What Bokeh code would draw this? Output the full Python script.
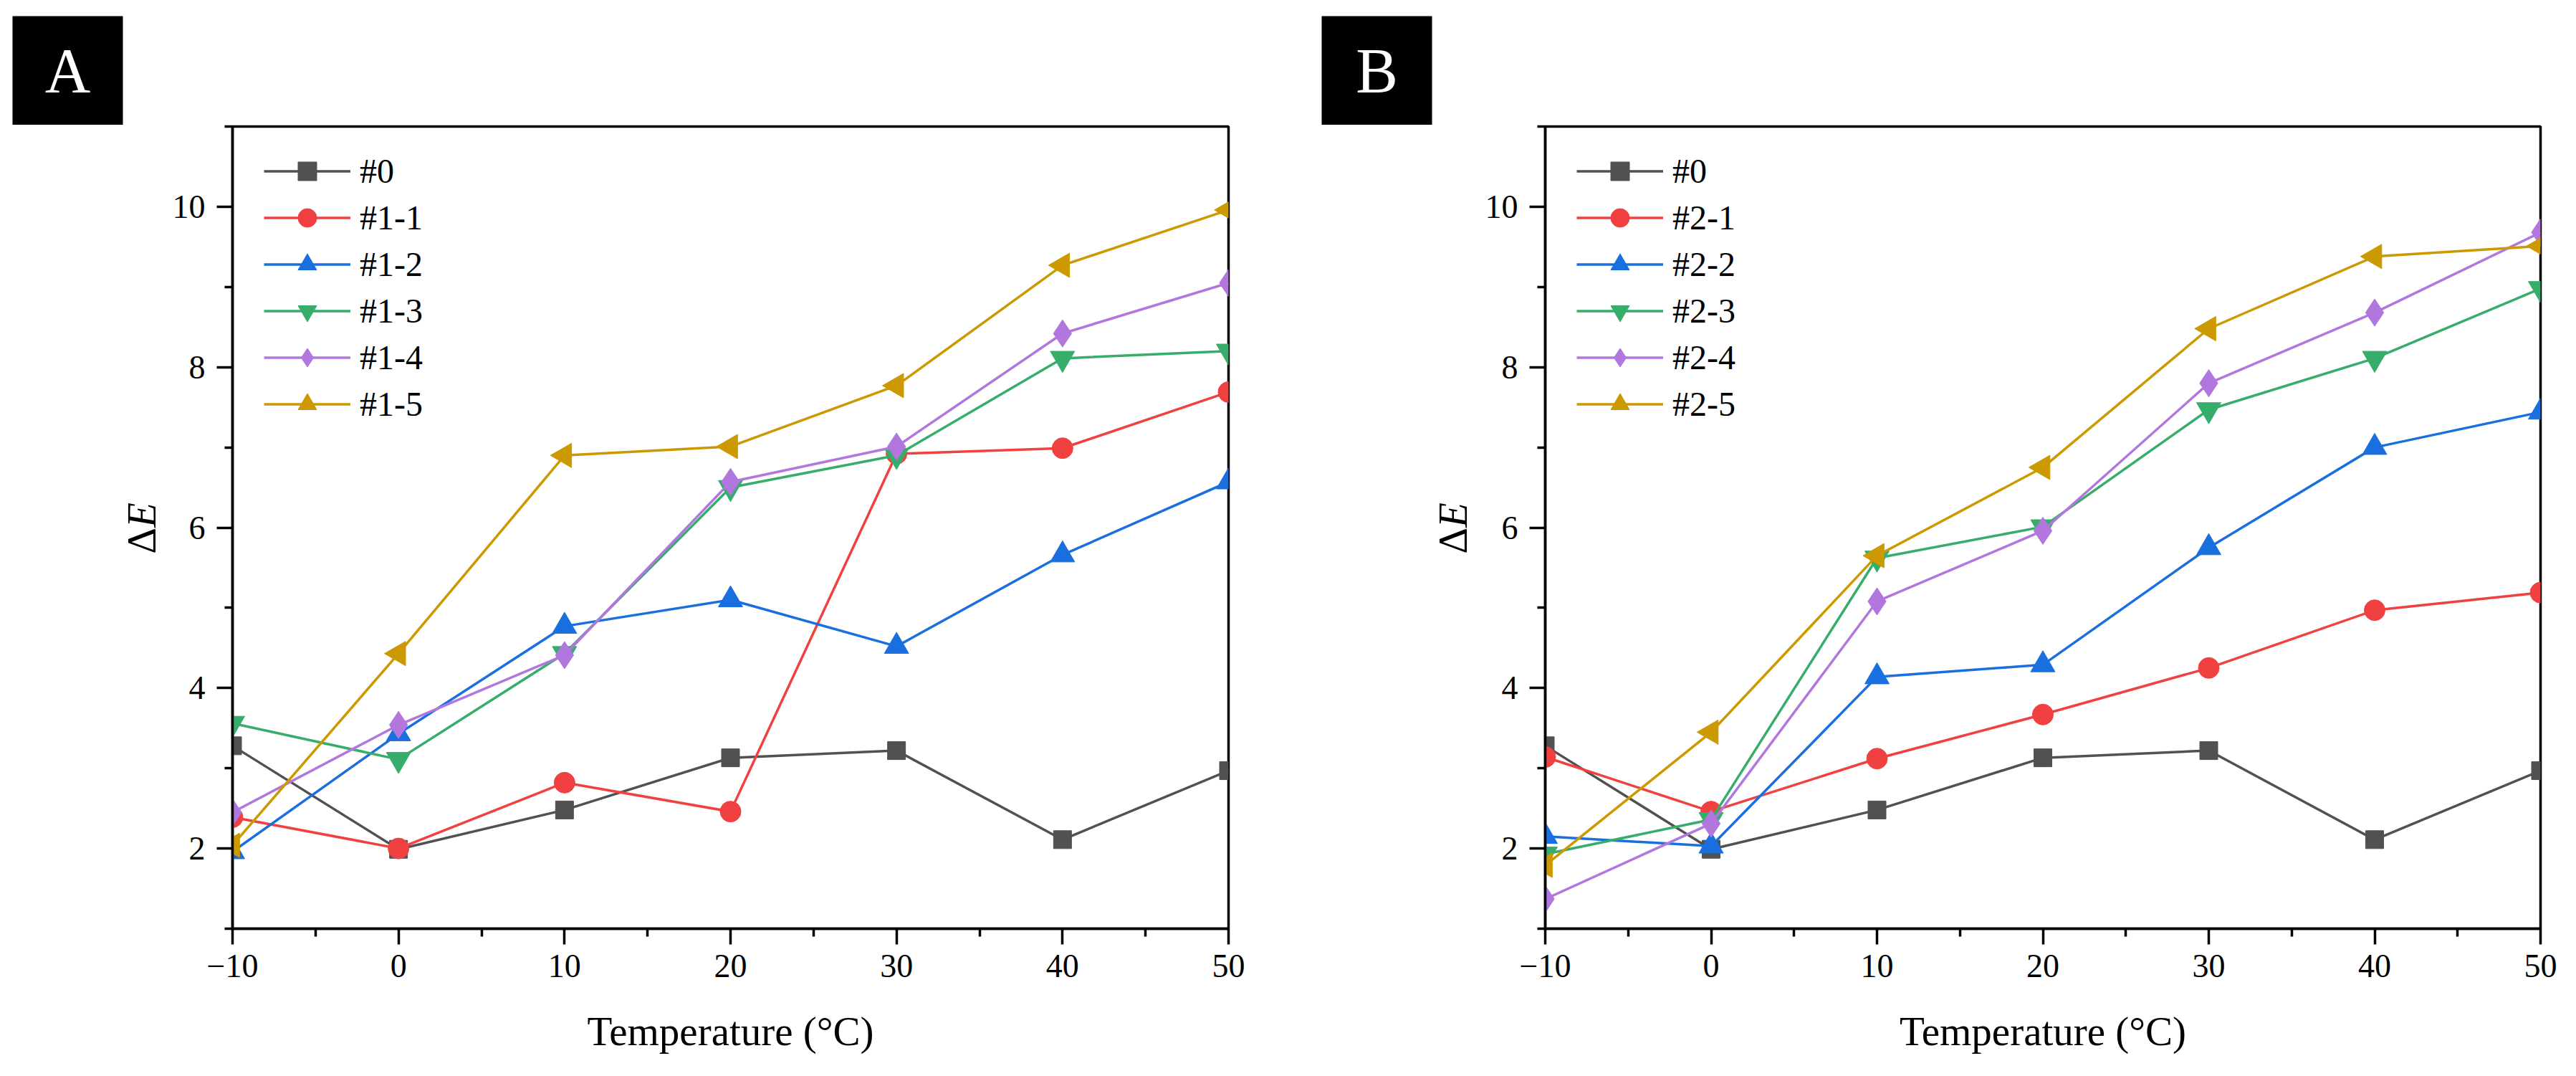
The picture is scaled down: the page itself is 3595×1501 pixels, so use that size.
import math
from bokeh.plotting import figure
from bokeh.models import Range1d, FixedTicker
from bokeh.layouts import row, column
from bokeh.embed import file_html
from bokeh.resources import INLINE
from bokeh.core.properties import value

# ---------------- data ----------------
temps = [-10, 0, 10, 20, 30, 40, 50]
x_minor = [-5, 5, 15, 25, 35, 45]
y_major = [2, 4, 6, 8, 10]
y_minor = [1, 3, 5, 7, 9, 11]

labels_a = ["#0", "#1-1", "#1-2", "#1-3", "#1-4", "#1-5"]
labels_b = ["#0", "#2-1", "#2-2", "#2-3", "#2-4", "#2-5"]

s0 = [3.28, 1.99, 2.48, 3.13, 3.22, 2.11, 2.97]

a1 = [2.39, 2.00, 2.82, 2.46, 6.92, 6.99, 7.69]
a2 = [1.96, 3.43, 4.77, 5.10, 4.52, 5.66, 6.57]
a3 = [3.56, 3.11, 4.43, 6.50, 6.90, 8.11, 8.20]
a4 = [2.45, 3.54, 4.41, 6.57, 7.01, 8.42, 9.05]
a5 = [2.04, 4.43, 6.90, 7.01, 7.77, 9.27, 9.96]

b1 = [3.14, 2.46, 3.12, 3.67, 4.25, 4.97, 5.19]
b2 = [2.15, 2.03, 4.14, 4.29, 5.75, 7.00, 7.44]
b3 = [1.93, 2.36, 5.62, 6.01, 7.47, 8.11, 8.98]
b4 = [1.37, 2.31, 5.08, 5.96, 7.80, 8.68, 9.68]
b5 = [1.79, 3.45, 5.65, 6.75, 8.48, 9.38, 9.51]

colors = ["#515151", "#F14040", "#1A6FDF", "#37AD6B", "#B177DE", "#CC9900"]
markers = ["square", "circle", "triangle", "inverted_triangle", "diamond", "triangle"]
angles = [0, 0, 0, 0, 0, math.pi / 2]
sizes = [25, 29, 34, 34, 38, 34]

FONT = "Liberation Serif"
ROW2_H = 1320
TOP_B = 2
FRAME_H = 1119
BOT_B = ROW2_H - TOP_B - FRAME_H


def make_plot(series, labels, width, left, right, yr):
    p = figure(width=width, height=ROW2_H,
               x_range=Range1d(-10, 50), y_range=yr,
               output_backend="svg", toolbar_location=None,
               min_border_left=left, min_border_right=right,
               min_border_top=TOP_B, min_border_bottom=BOT_B)
    p.xgrid.visible = False
    p.ygrid.visible = False
    p.outline_line_color = "black"
    p.outline_line_width = 3.5
    p.background_fill_color = "white"
    p.border_fill_color = "white"

    for ax in (p.xaxis[0], p.yaxis[0]):
        ax.axis_line_width = 3.5
        ax.axis_line_color = "black"
        ax.major_tick_line_width = 3.5
        ax.minor_tick_line_width = 3.5
        ax.major_tick_out = 22
        ax.major_tick_in = 0
        ax.minor_tick_out = 11
        ax.minor_tick_in = 0
        ax.major_label_text_font = FONT
        ax.major_label_text_font_size = "46px"
        ax.major_label_text_color = "black"
        ax.axis_label_text_font = FONT
        ax.axis_label_text_font_size = "57px"
        ax.axis_label_text_font_style = "normal"
        ax.axis_label_text_color = "black"

    p.xaxis.ticker = FixedTicker(ticks=temps, minor_ticks=x_minor)
    p.yaxis.ticker = FixedTicker(ticks=y_major, minor_ticks=y_minor)
    p.xaxis.major_label_overrides = {-10: "\u221210"}
    p.xaxis.major_label_standoff = 14
    p.yaxis.major_label_standoff = 16
    p.xaxis.axis_label = "Temperature (\u00b0C)"
    p.xaxis.axis_label_standoff = 41

    for ys, lab, c, m, a, s in zip(series, labels, colors, markers, angles, sizes):
        p.line(temps, ys, line_color=c, line_width=3.5, legend_label=lab)
        p.scatter(temps, ys, marker=m, angle=a, size=s, fill_color=c,
                  line_color=c, line_width=1, legend_label=lab)

    lg = p.legend[0]
    lg.location = (44, FRAME_H - 30 - 6 * 65)
    lg.padding = 0
    lg.margin = 0
    lg.spacing = 0
    lg.glyph_width = 121
    lg.glyph_height = 65
    lg.label_height = 65
    lg.label_standoff = 13
    lg.label_text_font = FONT
    lg.label_text_font_size = "48px"
    lg.label_text_color = "black"
    lg.border_line_color = None
    lg.background_fill_alpha = 0
    return p


def make_ylabel(width, cx, yr):
    f = figure(width=width, height=ROW2_H,
               x_range=Range1d(0, width), y_range=yr,
               output_backend="svg", toolbar_location=None,
               x_axis_location=None, y_axis_location=None,
               min_border_left=0, min_border_right=0,
               min_border_top=TOP_B, min_border_bottom=BOT_B)
    f.outline_line_color = None
    f.background_fill_color = "white"
    f.border_fill_color = "white"
    f.grid.visible = False
    ymid = (yr.start + yr.end) / 2
    f.text(x=[cx], y=[ymid], text=["\u0394"], angle=math.pi / 2,
           text_align="right", text_baseline="middle", text_color="black",
           text_font=value(FONT), text_font_size="57px")
    f.text(x=[cx], y=[ymid], text=["E"], angle=math.pi / 2,
           text_align="left", text_baseline="middle", text_color="black",
           text_font=value(FONT), text_font_style="italic",
           text_font_size="57px")
    return f


def make_box(letter, width, left):
    f = figure(width=width, height=174,
               x_range=Range1d(0, 1), y_range=Range1d(0, 1),
               output_backend="svg", toolbar_location=None,
               x_axis_location=None, y_axis_location=None,
               min_border_left=left, min_border_right=width - left - 154,
               min_border_top=22, min_border_bottom=0)
    f.background_fill_color = "black"
    f.border_fill_color = "white"
    f.outline_line_color = None
    f.grid.visible = False
    f.text(x=[0.5], y=[0.5], text=[letter], text_align="center",
           text_baseline="middle", text_color="white",
           text_font=value(FONT), text_font_size="88px")
    return f


yr_a = Range1d(1, 11)
yr_b = Range1d(1, 11)

ylab_a = make_ylabel(236, 197, yr_a)
pa = make_plot([s0, a1, a2, a3, a4, a5], labels_a, 1754, 88, 276, yr_a)
ylab_b = make_ylabel(78, 37, yr_b)
pb = make_plot([s0, b1, b2, b3, b4, b5], labels_b, 1519, 88, 42, yr_b)

box_a = make_box("A", 1830, 17)
box_b = make_box("B", 1757, 14)

layout = column(row(box_a, box_b), row(ylab_a, pa, ylab_b, pb))

open("out.html", "w").write(file_html(layout, INLINE))
